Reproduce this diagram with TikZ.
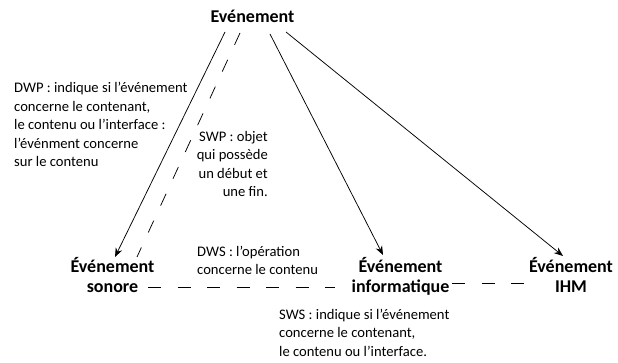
\documentclass[tikz,border=0pt]{standalone}
\usepackage{fontspec}
\setmainfont{Carlito}
\usetikzlibrary{arrows.meta}
\begin{document}
\begin{tikzpicture}[x=1pt,y=-1pt,
  lbl/.style={font=\fontsize{14.6}{18.5}\selectfont, inner sep=0pt, align=left},
  ev/.style={font=\bfseries\fontsize{18}{19.2}\selectfont, inner sep=0pt, align=center},
  arr/.style={line width=0.75pt, -{Stealth[length=9pt,width=7pt]}},
  dsh/.style={line width=0.75pt, dash pattern=on 13pt off 16.5pt}]
\useasboundingbox (0,0) rectangle (618,363);
\node[ev, anchor=base] (top) at (252.5,23) {Evénement};
\node[ev, anchor=base] (son) at (112.5,292) {Événement\\sonore};
\node[ev, anchor=base] (inf) at (400.5,292) {Événement\\informatique};
\node[ev, anchor=base] (ihm) at (571,292) {Événement\\IHM};
\coordinate (s1) at (225,32);
\coordinate (s2) at (240,33);
\coordinate (s3) at (270,34);
\coordinate (s4) at (286,32);
\coordinate (e1) at (115,257);
\coordinate (e2) at (137,257);
\coordinate (e3) at (383,255);
\coordinate (e4) at (563,256);
\draw[arr] (s1) -- (e1);
\draw[dsh] (s2) -- (e2);
\draw[arr] (s3) -- (e3);
\draw[arr] (s4) -- (e4);
\coordinate (h1) at (148,287);
\coordinate (h2) at (335,287);
\coordinate (h3) at (452,283);
\coordinate (h4) at (524,283);
\draw[dsh] (h1) -- (h2);
\draw[dsh] (h3) -- (h4);
\node[lbl, anchor=base west] (dwp) at (14,166.7) {DWP : indique si l’événement\\concerne le contenant,\\le contenu ou l’interface :\\l’événment concerne\\sur le contenu};
\node[lbl, anchor=base east, align=right] (swp) at (268,197) {SWP : objet\\qui possède\\un début et\\une fin.};
\node[lbl, anchor=base west] (dws) at (197,275) {DWS : l’opération\\concerne le contenu};
\node[lbl, anchor=base west] (sws) at (279,356) {SWS : indique si l’événement\\concerne le contenant,\\le contenu ou l’interface.};
\end{tikzpicture}
\end{document}
